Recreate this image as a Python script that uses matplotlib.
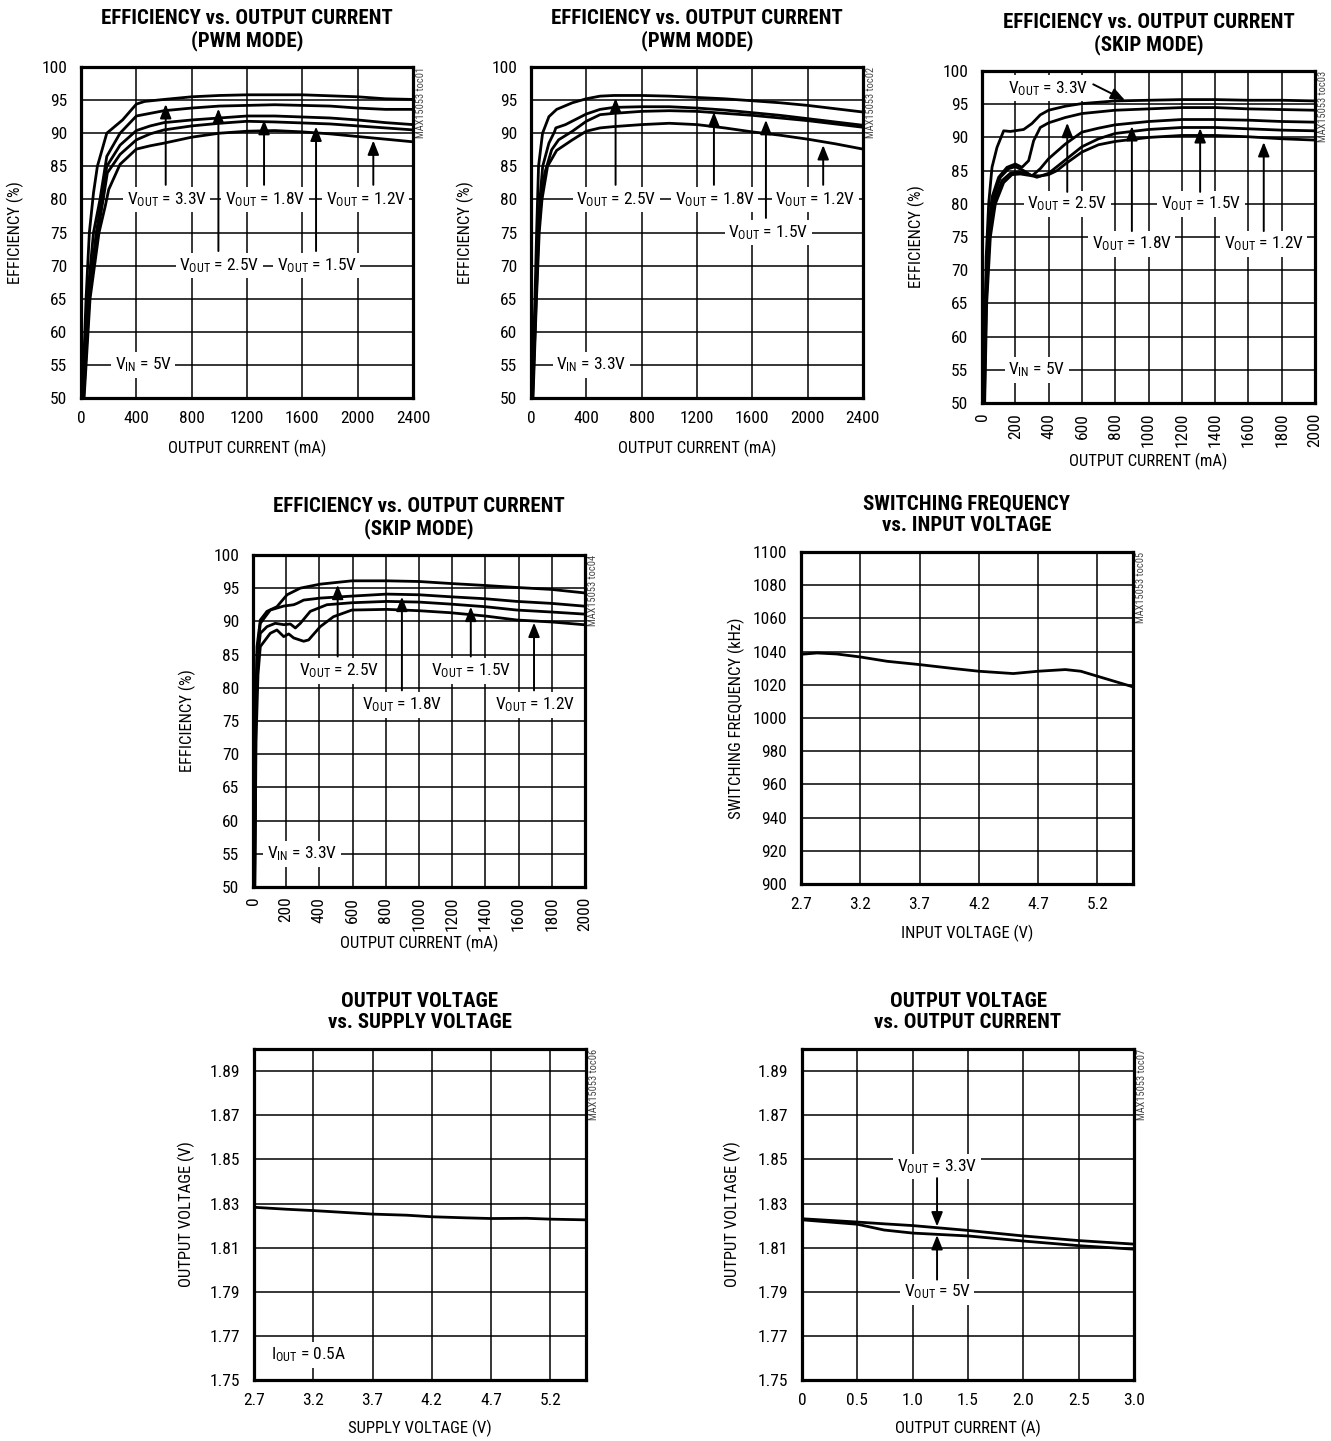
import matplotlib
matplotlib.use('Agg')
import matplotlib.pyplot as plt

plt.rcParams['font.family'] = ['Roboto Condensed', 'Liberation Sans Narrow', 'Liberation Sans', 'DejaVu Sans']
plt.rcParams['mathtext.default'] = 'regular'

# --- efficiency, PWM mode, VIN = 5V (mA, %) ---
p1_33_ma = [10, 36, 60, 90, 118, 186, 300, 400, 460, 600, 800, 1000, 1200, 1600, 2000, 2200, 2400]
p1_33_eff = [50, 65, 75, 81, 85, 90, 92.0, 94.4, 94.8, 95.1, 95.5, 95.7, 95.8, 95.8, 95.5, 95.2, 95.1]
p1_25_ma = [12, 46, 90, 137, 186, 282, 400, 500, 600, 800, 1000, 1200, 1400, 1800, 2000, 2200, 2400]
p1_25_eff = [50, 65, 75, 80, 86.5, 90.0, 92.6, 93.0, 93.4, 93.8, 94.1, 94.2, 94.3, 94.1, 93.8, 93.6, 93.6]
p1_18_ma = [15, 55, 110, 150, 186, 282, 400, 500, 600, 800, 1000, 1200, 1400, 1800, 2000, 2200, 2400]
p1_18_eff = [50, 65, 75, 80, 85.0, 88.2, 90.4, 91.1, 91.6, 92.0, 92.3, 92.6, 92.6, 92.3, 92.0, 91.6, 91.3]
p1_15_ma = [18, 60, 120, 160, 190, 282, 400, 500, 600, 800, 1000, 1200, 1400, 1800, 2000, 2200, 2400]
p1_15_eff = [50, 65, 75, 80, 84.0, 86.8, 89.0, 89.9, 90.5, 91.1, 91.5, 91.8, 91.7, 91.4, 91.1, 90.8, 90.5]
p1_12_ma = [22, 65, 130, 175, 200, 282, 400, 500, 600, 800, 1000, 1200, 1400, 1600, 1800, 2000, 2200, 2400]
p1_12_eff = [50, 65, 75, 79, 81.5, 85.3, 87.6, 88.1, 88.5, 89.4, 90.0, 90.3, 90.4, 90.2, 89.9, 89.5, 89.1, 88.7]

# --- efficiency, PWM mode, VIN = 3.3V ---
p2_25_ma = [8, 29, 41, 55, 84, 130, 186, 300, 400, 500, 600, 800, 1000, 1200, 1400, 1600, 1800, 2000, 2200, 2400]
p2_25_eff = [50, 65, 75, 85, 90, 92.5, 93.6, 94.6, 95.2, 95.6, 95.7, 95.7, 95.6, 95.4, 95.2, 94.9, 94.6, 94.2, 93.7, 93.2]
p2_18_ma = [10, 35, 50, 65, 85, 130, 170, 180, 250, 400, 500, 600, 800, 1000, 1200, 1400, 1600, 1800, 2000, 2200, 2400]
p2_18_eff = [50, 65, 75, 80, 85, 88.5, 90.2, 90.8, 91.3, 92.9, 93.6, 93.9, 94.0, 94.0, 93.8, 93.5, 93.1, 92.7, 92.2, 91.7, 91.2]
p2_15_ma = [12, 38, 55, 75, 100, 150, 200, 300, 400, 500, 600, 800, 1000, 1200, 1400, 1600, 1800, 2000, 2200, 2400]
p2_15_eff = [50, 65, 75, 80, 84, 87.5, 89.0, 90.3, 91.8, 92.8, 93.0, 93.3, 93.4, 93.3, 93.0, 92.7, 92.3, 91.9, 91.4, 90.9]
p2_12_ma = [15, 40, 60, 80, 120, 186, 300, 400, 500, 600, 800, 1000, 1200, 1400, 1600, 1800, 2000, 2200, 2400]
p2_12_eff = [50, 65, 75, 80, 85, 87.4, 89.0, 90.3, 90.8, 91.0, 91.3, 91.5, 91.3, 90.8, 90.2, 89.7, 89.1, 88.4, 87.6]

# --- efficiency, skip mode, VIN = 5V ---
p3_33_ma = [10, 25, 40, 60, 90, 130, 170, 250, 300, 350, 400, 500, 600, 800, 1000, 1200, 1400, 1600, 1800, 2000]
p3_33_eff = [50, 72, 80, 85.5, 88.5, 91.0, 90.9, 91.2, 92.1, 93.4, 94.1, 94.7, 95.1, 95.5, 95.6, 95.7, 95.7, 95.6, 95.6, 95.5]
p3_25_ma = [10, 20, 35, 60, 100, 150, 200, 240, 280, 310, 350, 400, 500, 600, 800, 1000, 1200, 1400, 1600, 1800, 2000]
p3_25_eff = [50, 65, 75, 81, 84.0, 85.5, 86.0, 85.5, 86.5, 89.5, 91.5, 92.2, 93.0, 93.6, 94.1, 94.3, 94.5, 94.5, 94.3, 94.2, 94.1]
p3_18_ma = [12, 22, 40, 70, 110, 160, 200, 250, 300, 350, 400, 500, 600, 700, 800, 1000, 1200, 1400, 1600, 1800, 2000]
p3_18_eff = [50, 65, 75, 81, 84.0, 85.3, 85.6, 85.0, 84.2, 85.3, 86.8, 89.0, 90.8, 91.4, 91.9, 92.4, 92.7, 92.7, 92.6, 92.4, 92.3]
p3_15_ma = [14, 25, 45, 75, 120, 170, 220, 270, 330, 400, 450, 500, 600, 700, 800, 1000, 1200, 1400, 1600, 1800, 2000]
p3_15_eff = [50, 65, 75, 80.5, 83.5, 84.6, 84.8, 84.5, 84.0, 84.6, 85.6, 86.6, 88.6, 89.8, 90.6, 91.2, 91.5, 91.5, 91.3, 91.1, 91.0]
p3_12_ma = [16, 28, 50, 80, 130, 180, 230, 280, 350, 400, 450, 500, 600, 700, 800, 1000, 1200, 1400, 1600, 1800, 2000]
p3_12_eff = [50, 65, 75, 80, 83.2, 84.4, 84.5, 84.3, 84.2, 84.4, 85.0, 86.0, 87.8, 88.9, 89.4, 90.0, 90.3, 90.3, 90.1, 89.8, 89.6]

# --- efficiency, skip mode, VIN = 3.3V ---
p4_25_ma = [8, 15, 24, 44, 84, 144, 205, 285, 405, 596, 806, 1000, 1188, 1400, 1589, 1800, 1990]
p4_25_eff = [50, 75, 86.2, 90.2, 91.5, 92.2, 94.0, 95.0, 95.6, 96.1, 96.1, 96.0, 95.7, 95.4, 95.1, 94.8, 94.3]
p4_18_ma = [9, 16, 26, 44, 104, 185, 245, 265, 305, 405, 596, 806, 1000, 1188, 1400, 1589, 1800, 1990]
p4_18_eff = [50, 75, 85.5, 89.7, 91.7, 92.3, 92.5, 92.7, 93.2, 93.5, 93.8, 94.1, 94.0, 93.7, 93.4, 93.0, 92.7, 92.3]
p4_15_ma = [10, 17, 28, 44, 84, 134, 185, 225, 255, 285, 345, 445, 596, 806, 1000, 1188, 1400, 1589, 1800, 1990]
p4_15_eff = [50, 75, 84.5, 88.2, 89.2, 89.7, 89.5, 89.6, 89.0, 89.7, 91.5, 92.5, 92.8, 93.0, 92.9, 92.6, 92.2, 91.7, 91.4, 91.1]
p4_12_ma = [11, 18, 30, 44, 104, 144, 185, 215, 245, 305, 335, 405, 485, 596, 806, 1000, 1188, 1400, 1589, 1800, 1990]
p4_12_eff = [50, 72, 82.0, 86.2, 88.2, 88.7, 87.7, 88.1, 87.5, 87.0, 87.2, 89.2, 90.7, 91.7, 91.8, 91.6, 91.3, 90.8, 90.2, 89.9, 89.5]

# --- switching frequency vs. input voltage ---
fsw_vin = [2.7, 2.835, 3.0, 3.2, 3.425, 3.7, 3.99, 4.2, 4.49, 4.7, 4.93, 5.06, 5.2, 5.5]
fsw_khz = [1038.4, 1039.2, 1038.6, 1036.8, 1034.2, 1032.2, 1029.8, 1028.2, 1026.8, 1028.2, 1029.2, 1028.2, 1025.2, 1018.8]

# --- output voltage vs. supply voltage (IOUT = 0.5A) ---
vout_vin = [2.7, 2.975, 3.2, 3.48, 3.7, 3.99, 4.2, 4.49, 4.7, 5.0, 5.21, 5.5]
vout_v = [1.8283, 1.8274, 1.8268, 1.8259, 1.8252, 1.8247, 1.8240, 1.8235, 1.8232, 1.8233, 1.8229, 1.8226]

# --- output voltage vs. output current ---
load_a = [0, 0.5, 0.74, 1.0, 1.5, 2.0, 2.5, 3.0]
load_v33 = [1.8231, 1.8216, 1.8208, 1.8200, 1.8178, 1.8153, 1.8132, 1.8116]
load_v5 = [1.8226, 1.8206, 1.8180, 1.8166, 1.8153, 1.8130, 1.8109, 1.8093]

EFF_TICKS = list(range(50, 101, 5))
FS = 12.5       # tick labels
FS_NOTE = 12.5  # curve labels
FS_AX = 12      # axis titles
LINE_W = 2.0


def style_axes(ax, title, xlabel, ylabel, tag, xlim, ylim, xticks, yticks,
               xticklabels=None, yticklabels=None, xrot=0,
               xlabel_y=-0.127, ylabel_x=-0.172):
    ax.set_xlim(*xlim)
    ax.set_ylim(*ylim)
    ax.set_xticks(xticks)
    ax.set_yticks(yticks)
    if xticklabels is not None:
        ax.set_xticklabels(xticklabels)
    if yticklabels is not None:
        ax.set_yticklabels(yticklabels)
    ax.grid(True, color='black', lw=1.1)
    ax.set_axisbelow(True)
    ax.tick_params(axis='both', length=0, labelsize=FS)
    ax.tick_params(axis='y', pad=10)
    ax.tick_params(axis='x', pad=9 if xrot == 0 else 7, labelrotation=xrot)
    for sp in ax.spines.values():
        sp.set_linewidth(2.3)
    ax.set_xlabel(xlabel, fontsize=FS_AX)
    ax.set_ylabel(ylabel, fontsize=FS_AX)
    ax.xaxis.set_label_coords(0.5, xlabel_y)
    ax.yaxis.set_label_coords(ylabel_x, 0.5)
    ax.set_title(title, fontsize=15, fontweight='bold', pad=15, linespacing=1.15)
    ax.text(1.025, 1.0, tag, transform=ax.transAxes, rotation=90,
            ha='center', va='top', fontsize=7.5, color='#444444')


def label(ax, x, y, s):
    ax.text(x, y, s, ha='center', va='center', fontsize=FS_NOTE, zorder=4,
            bbox=dict(boxstyle='square,pad=0.2', fc='white', ec='none'))


def arrow(ax, x0, y0, x1, y1):
    ax.annotate('', xy=(x1, y1), xytext=(x0, y0), zorder=5,
                arrowprops=dict(arrowstyle='-|>,head_length=0.5,head_width=0.2',
                                color='black', lw=1.4, mutation_scale=17,
                                shrinkA=0, shrinkB=0))


def vout(v):
    return r'$V_{OUT}$ = ' + v


fig = plt.figure(figsize=(13.31, 14.41), dpi=100)
ax1 = fig.add_axes([0.0609, 0.7238, 0.2494, 0.2297])
ax2 = fig.add_axes([0.3989, 0.7238, 0.2494, 0.2297])
ax3 = fig.add_axes([0.7378, 0.7203, 0.2502, 0.2304])
ax4 = fig.add_axes([0.1901, 0.3845, 0.2494, 0.2304])
ax5 = fig.add_axes([0.6018, 0.3865, 0.2494, 0.2304])
ax6 = fig.add_axes([0.1908, 0.0423, 0.2494, 0.2297])
ax7 = fig.add_axes([0.6026, 0.0423, 0.2494, 0.2297])

# PWM mode, VIN = 5V
for xs, ys in [(p1_33_ma, p1_33_eff), (p1_25_ma, p1_25_eff), (p1_18_ma, p1_18_eff),
               (p1_15_ma, p1_15_eff), (p1_12_ma, p1_12_eff)]:
    ax1.plot(xs, ys, color='black', lw=LINE_W, solid_joinstyle='round')
style_axes(ax1, 'EFFICIENCY vs. OUTPUT CURRENT\n(PWM MODE)', 'OUTPUT CURRENT (mA)',
           'EFFICIENCY (%)', 'MAX15053 toc01', (0, 2400), (50, 100),
           range(0, 2401, 400), EFF_TICKS)
label(ax1, 619, 80, vout('3.3V'))
label(ax1, 1330, 80, vout('1.8V'))
label(ax1, 2058, 80, vout('1.2V'))
label(ax1, 998, 70, vout('2.5V'))
label(ax1, 1704, 70, vout('1.5V'))
label(ax1, 450, 55, r'$V_{IN}$ = 5V')
arrow(ax1, 612, 82.2, 612, 94.4)
arrow(ax1, 993, 72.2, 993, 93.7)
arrow(ax1, 1323, 82.2, 1323, 92.0)
arrow(ax1, 1699, 72.2, 1699, 91.0)
arrow(ax1, 2113, 82.2, 2113, 88.9)

# PWM mode, VIN = 3.3V
for xs, ys in [(p2_25_ma, p2_25_eff), (p2_18_ma, p2_18_eff),
               (p2_15_ma, p2_15_eff), (p2_12_ma, p2_12_eff)]:
    ax2.plot(xs, ys, color='black', lw=LINE_W, solid_joinstyle='round')
style_axes(ax2, 'EFFICIENCY vs. OUTPUT CURRENT\n(PWM MODE)', 'OUTPUT CURRENT (mA)',
           'EFFICIENCY (%)', 'MAX15053 toc02', (0, 2400), (50, 100),
           range(0, 2401, 400), EFF_TICKS)
label(ax2, 619, 80, vout('2.5V'))
label(ax2, 1330, 80, vout('1.8V'))
label(ax2, 2058, 80, vout('1.2V'))
label(ax2, 1716, 75, vout('1.5V'))
label(ax2, 439, 55, r'$V_{IN}$ = 3.3V')
arrow(ax2, 612, 82.2, 612, 95.3)
arrow(ax2, 1323, 82.2, 1323, 93.2)
arrow(ax2, 1699, 77.2, 1699, 92.0)
arrow(ax2, 2113, 82.2, 2113, 88.2)

# skip mode, VIN = 5V
for xs, ys in [(p3_33_ma, p3_33_eff), (p3_25_ma, p3_25_eff), (p3_18_ma, p3_18_eff),
               (p3_15_ma, p3_15_eff), (p3_12_ma, p3_12_eff)]:
    ax3.plot(xs, ys, color='black', lw=LINE_W, solid_joinstyle='round')
style_axes(ax3, 'EFFICIENCY vs. OUTPUT CURRENT\n(SKIP MODE)', 'OUTPUT CURRENT (mA)',
           'EFFICIENCY (%)', 'MAX15053 toc03', (0, 2000), (50, 100),
           range(0, 2001, 200), EFF_TICKS, xrot=90, xlabel_y=-0.151, ylabel_x=-0.171)
label(ax3, 400, 97.4, vout('3.3V'))
label(ax3, 514, 80, vout('2.5V'))
label(ax3, 1315, 80, vout('1.5V'))
label(ax3, 900, 74, vout('1.8V'))
label(ax3, 1692, 74, vout('1.2V'))
label(ax3, 330, 55, r'$V_{IN}$ = 5V')
arrow(ax3, 668, 98.0, 859, 95.6)
arrow(ax3, 512, 81.8, 512, 92.2)
arrow(ax3, 900, 75.9, 900, 91.7)
arrow(ax3, 1310, 81.8, 1310, 91.4)
arrow(ax3, 1692, 75.9, 1692, 89.3)

# skip mode, VIN = 3.3V
for xs, ys in [(p4_25_ma, p4_25_eff), (p4_18_ma, p4_18_eff),
               (p4_15_ma, p4_15_eff), (p4_12_ma, p4_12_eff)]:
    ax4.plot(xs, ys, color='black', lw=LINE_W, solid_joinstyle='round')
style_axes(ax4, 'EFFICIENCY vs. OUTPUT CURRENT\n(SKIP MODE)', 'OUTPUT CURRENT (mA)',
           'EFFICIENCY (%)', 'MAX15053 toc04', (0, 2000), (50, 100),
           range(0, 2001, 200), EFF_TICKS, xrot=90, xlabel_y=-0.145)
label(ax4, 516, 82.5, vout('2.5V'))
label(ax4, 1316, 82.5, vout('1.5V'))
label(ax4, 900, 77.4, vout('1.8V'))
label(ax4, 1697, 77.4, vout('1.2V'))
label(ax4, 295, 55, r'$V_{IN}$ = 3.3V')
arrow(ax4, 510, 84.7, 510, 95.5)
arrow(ax4, 897, 79.6, 897, 93.7)
arrow(ax4, 1312, 84.7, 1312, 92.2)
arrow(ax4, 1693, 79.6, 1693, 89.8)

# switching frequency
ax5.plot(fsw_vin, fsw_khz, color='black', lw=LINE_W)
style_axes(ax5, 'SWITCHING FREQUENCY\nvs. INPUT VOLTAGE', 'INPUT VOLTAGE (V)',
           'SWITCHING FREQUENCY (kHz)', 'MAX15053 toc05', (2.7, 5.5), (900, 1100),
           [2.7, 3.2, 3.7, 4.2, 4.7, 5.2], range(900, 1101, 20),
           xticklabels=['2.7', '3.2', '3.7', '4.2', '4.7', '5.2'],
           xlabel_y=-0.123, ylabel_x=-0.169)

# output voltage vs. supply voltage
ax6.plot(vout_vin, vout_v, color='black', lw=LINE_W)
vticks = [1.75, 1.77, 1.79, 1.81, 1.83, 1.85, 1.87, 1.89]
vlabels = ['%.2f' % v for v in vticks]
style_axes(ax6, 'OUTPUT VOLTAGE\nvs. SUPPLY VOLTAGE', 'SUPPLY VOLTAGE (V)',
           'OUTPUT VOLTAGE (V)', 'MAX15053 toc06', (2.7, 5.5), (1.75, 1.90),
           [2.7, 3.2, 3.7, 4.2, 4.7, 5.2], vticks,
           xticklabels=['2.7', '3.2', '3.7', '4.2', '4.7', '5.2'], yticklabels=vlabels,
           xlabel_y=-0.121, ylabel_x=-0.178)
label(ax6, 3.16, 1.7613, r'$I_{OUT}$ = 0.5A')

# output voltage vs. output current
ax7.plot(load_a, load_v33, color='black', lw=LINE_W)
ax7.plot(load_a, load_v5, color='black', lw=LINE_W)
style_axes(ax7, 'OUTPUT VOLTAGE\nvs. OUTPUT CURRENT', 'OUTPUT CURRENT (A)',
           'OUTPUT VOLTAGE (V)', 'MAX15053 toc07', (0, 3.0), (1.75, 1.90),
           [0, 0.5, 1.0, 1.5, 2.0, 2.5, 3.0], vticks,
           xticklabels=['0', '0.5', '1.0', '1.5', '2.0', '2.5', '3.0'], yticklabels=vlabels,
           xlabel_y=-0.121, ylabel_x=-0.184)
label(ax7, 1.22, 1.8468, vout('3.3V'))
label(ax7, 1.22, 1.79, vout('5V'))
arrow(ax7, 1.22, 1.8415, 1.22, 1.8196)
arrow(ax7, 1.22, 1.7955, 1.22, 1.8157)

fig.savefig('out.png', dpi=100, facecolor='white')
